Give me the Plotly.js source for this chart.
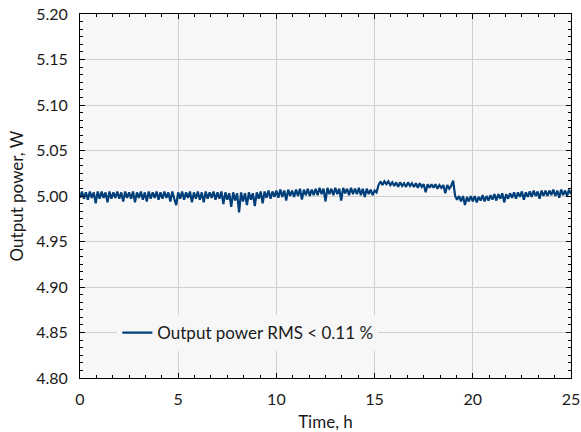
<!DOCTYPE html>
<html>
<head>
<meta charset="utf-8">
<script src="https://cdn.plot.ly/plotly-3.0.1.min.js"></script>
<style>html,body{margin:0;padding:0;background:#fff;}#chart{width:581px;height:432px;}</style>
</head>
<body>
<div id="chart"></div>
<script>
// Time axis: samples start at 0 h, one sample every 0.1 h
var timeStart = 0;
var timeStep = 0.1;

// Output power readings (W), one row per hour
var power = [
  4.998,5.005,4.997,5.004,4.996,5.005,4.998,5.004,4.992,5.005,
  4.997,5.005,4.998,5.004,4.993,5.005,4.997,5.004,4.998,5.005,
  4.997,5.004,4.994,5.005,4.998,5.004,4.997,5.005,4.993,5.004,
  4.998,5.005,4.996,5.004,4.994,5.005,4.997,5.004,4.998,5.005,
  4.996,5.004,4.997,5.005,4.998,5.004,4.994,5.005,4.997,4.990,
  5.004,4.997,5.005,4.996,5.004,4.998,5.005,4.993,5.004,4.997,
  5.005,4.996,5.004,4.993,5.005,4.997,5.004,4.998,5.005,4.996,
  5.004,4.997,5.005,4.991,5.004,4.996,5.003,4.988,5.004,4.995,
  5.003,4.982,5.004,4.994,5.003,4.990,5.004,4.996,5.003,4.989,
  5.004,4.997,5.005,4.992,5.005,4.998,5.006,4.997,5.005,4.999,
  5.006,4.998,5.007,4.999,5.006,4.995,5.007,5.000,5.006,4.999,
  5.007,5.000,5.008,4.996,5.007,5.001,5.008,5.000,5.007,5.001,
  5.008,5.001,5.009,5.002,5.008,4.994,5.009,5.002,5.008,5.001,
  5.009,5.002,5.008,4.995,5.009,5.003,5.008,5.001,5.009,5.002,
  5.008,5.002,5.009,5.001,5.008,4.999,5.008,5.002,5.007,5.001,
  5.006,5.004,5.012,5.016,5.012,5.016,5.013,5.016,5.012,5.015,
  5.011,5.015,5.010,5.015,5.011,5.014,5.010,5.015,5.011,5.014,
  5.010,5.014,5.009,5.014,5.010,5.013,5.004,5.013,5.009,5.013,
  5.009,5.013,5.008,5.012,5.009,5.012,5.003,5.012,5.008,5.011,
  5.017,5.000,4.996,5.000,4.994,5.000,4.990,4.999,4.994,5.000,
  4.994,5.000,4.993,4.999,4.995,5.001,4.994,5.000,4.995,5.001,
  4.996,5.002,4.995,5.002,4.997,5.003,4.993,5.002,4.997,5.003,
  4.998,5.004,4.997,5.004,4.999,5.005,4.996,5.004,4.999,5.005,
  4.999,5.006,5.000,5.005,4.997,5.006,5.000,5.006,5.000,5.006,
  5.001,5.007,5.000,5.006,4.998,5.007,5.001,5.006,5.000,5.007,
  5.002
];

var seriesName = 'Output power RMS < 0.11 %';
var xTitle = 'Time, h';
var yTitle = 'Output power, W';

var fontFam = 'Lato, "Open Sans", sans-serif';
var plotBg = '#f7f7f7';
var txt = '#1a1a1a';

var trace = {
  type: 'scatter',
  mode: 'lines',
  x0: timeStart,
  dx: timeStep,
  y: power,
  name: seriesName,
  line: {color: '#003f7a', width: 2.2}
};

var axisCommon = {
  showline: true,
  linecolor: '#000',
  linewidth: 1,
  mirror: 'allticks',
  ticks: 'inside',
  ticklen: 5,
  tickcolor: '#000',
  showgrid: true,
  gridcolor: '#cfcfcf',
  gridwidth: 1,
  zeroline: false,
  ticklabeloverflow: 'allow',
  tickfont: {family: fontFam, size: 16, color: txt}
};

var layout = {
  width: 581,
  height: 432,
  margin: {l: 80, r: 10, t: 14, b: 54},
  paper_bgcolor: '#fff',
  plot_bgcolor: plotBg,
  showlegend: true,
  font: {family: fontFam, color: txt},
  xaxis: Object.assign({}, axisCommon, {
    range: [0, 25],
    tick0: 0,
    dtick: 5,
    ticklabelstandoff: 7,
    minor: {dtick: 5/6, ticks: 'inside', ticklen: 3, tickcolor: '#000', showgrid: false},
    title: {text: xTitle, font: {family: fontFam, size: 17, color: txt}, standoff: 8}
  }),
  yaxis: Object.assign({}, axisCommon, {
    range: [4.80, 5.20],
    tick0: 4.80,
    dtick: 0.05,
    tickformat: '.2f',
    ticklabelstandoff: 8,
    minor: {dtick: 0.05/6, ticks: 'inside', ticklen: 3, tickcolor: '#000', showgrid: false},
    title: {text: yTitle, font: {family: fontFam, size: 17, color: txt}, standoff: 8}
  }),
  legend: {
    x: 0.076, y: 0.1236, xanchor: 'left', yanchor: 'middle',
    bgcolor: plotBg,
    borderwidth: 0,
    font: {family: fontFam, size: 17, color: txt},
    itemwidth: 30
  },
  shapes: [{
    type: 'rect', xref: 'paper', yref: 'paper', layer: 'between',
    x0: 0.045, x1: 0.641, y0: 0.058, y1: 0.214,
    fillcolor: plotBg, line: {width: 0}
  }]
};

Plotly.newPlot('chart', [trace], layout, {displayModeBar: false, staticPlot: true});
</script>
</body>
</html>
